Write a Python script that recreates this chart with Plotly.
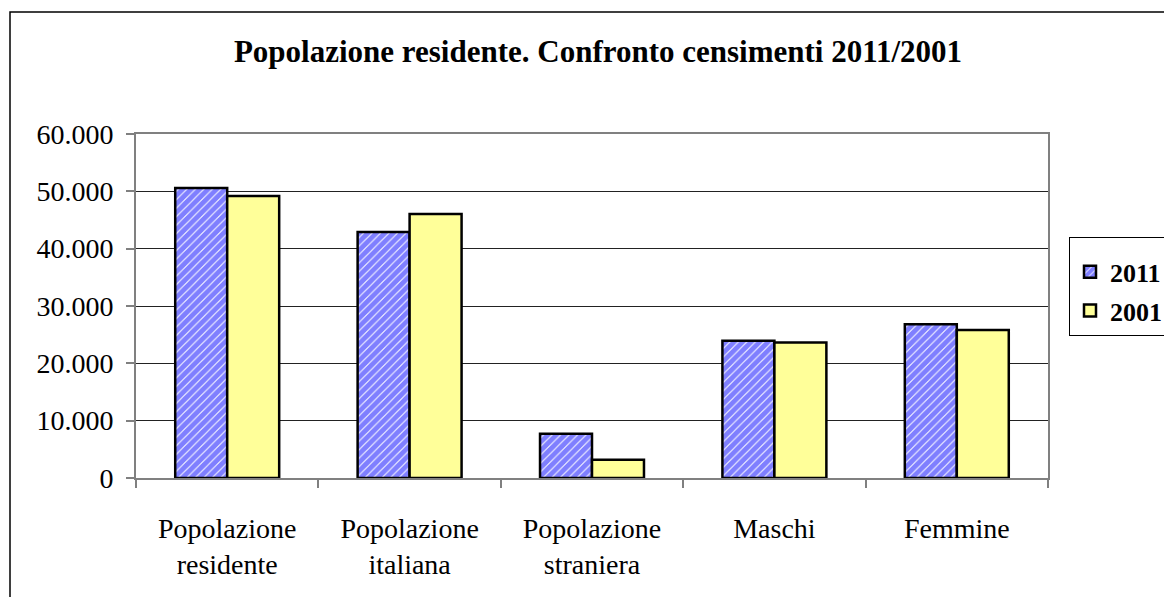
import plotly.graph_objects as go

categories = ["Popolazione<br>residente", "Popolazione<br>italiana", "Popolazione<br>straniera", "Maschi", "Femmine"]
values_2011 = [50600, 42900, 7700, 23950, 26800]
values_2001 = [49200, 46050, 3200, 23650, 25800]
y_ticks = [0, 10000, 20000, 30000, 40000, 50000, 60000]

FONT = "Liberation Serif"

fig = go.Figure()
fig.add_trace(go.Bar(
    name="<b>2011</b>", x=categories, y=values_2011, legendgroup="a",
    marker=dict(color="#0000FF",
                pattern=dict(shape="/", fgcolor="#0000FF", bgcolor="#FFFFFF", size=6, solidity=0.85),
                line=dict(color="#000000", width=2.5)),
))
fig.add_trace(go.Bar(
    name="<b>2001</b>", x=categories, y=values_2001, legendgroup="b",
    marker=dict(color="#FFFF99", line=dict(color="#000000", width=2.5)),
))

# page body has an 8px margin: keep the figure inside the window
OFF = 8
W, H = 1172 - 2 * OFF, 605 - 2 * OFF
L = 136 - OFF
T = 134 - OFF
R = (OFF + W) - 1048
B = (OFF + H) - 478
pw = W - L - R
ph = H - T - B

fig.update_layout(
    width=W, height=H,
    margin=dict(l=L, r=R, t=T, b=B, pad=0, autoexpand=False),
    paper_bgcolor="white", plot_bgcolor="white",
    separators=",.",
    barmode="group", bargap=0.43, bargroupgap=0,
    font=dict(family=FONT, size=28, color="black"),
    title=dict(text="<b>Popolazione residente. Confronto censimenti 2011/2001</b>",
               font=dict(family=FONT, size=31, color="black"),
               xref="paper", x=(598 - 136) / pw, xanchor="center",
               yref="container", y=1 - (51 - OFF) / H, yanchor="middle"),
    legend=dict(x=(1069 - 136) / pw, xanchor="left", y=1 - (237 - 134) / ph, yanchor="top",
                bordercolor="#000000", borderwidth=1, bgcolor="white",
                font=dict(family=FONT, size=26, color="black"),
                title=dict(text=" ", font=dict(size=8)),
                tracegroupgap=2, entrywidth=100,
                itemwidth=30),
    showlegend=True,
    shapes=[dict(type="rect", xref="paper", yref="paper",
                 x0=(10 - 136) / pw, x1=1.25, y0=-0.5, y1=1 + (134 - 12) / ph,
                 line=dict(color="#000000", width=1.5), layer="below")],
)

fig.update_xaxes(showline=True, linecolor="#808080", linewidth=2, mirror=True,
                 ticks="outside", tickson="boundaries", ticklen=8, tickcolor="#808080", tickwidth=2,
                 ticklabelstandoff=24, automargin=False,
                 tickfont=dict(family=FONT, size=28, color="black"), showgrid=False)
fig.update_yaxes(range=[0, 60000], tickvals=y_ticks, tickformat=",d",
                 showline=True, linecolor="#808080", linewidth=2, mirror=True,
                 ticks="outside", ticklen=8, tickcolor="#808080", tickwidth=2,
                 ticklabelstandoff=7, automargin=False,
                 showgrid=True, gridcolor="#222222", gridwidth=1,
                 tickfont=dict(family=FONT, size=28, color="black"), zeroline=False)

fig.write_html("out.html")
